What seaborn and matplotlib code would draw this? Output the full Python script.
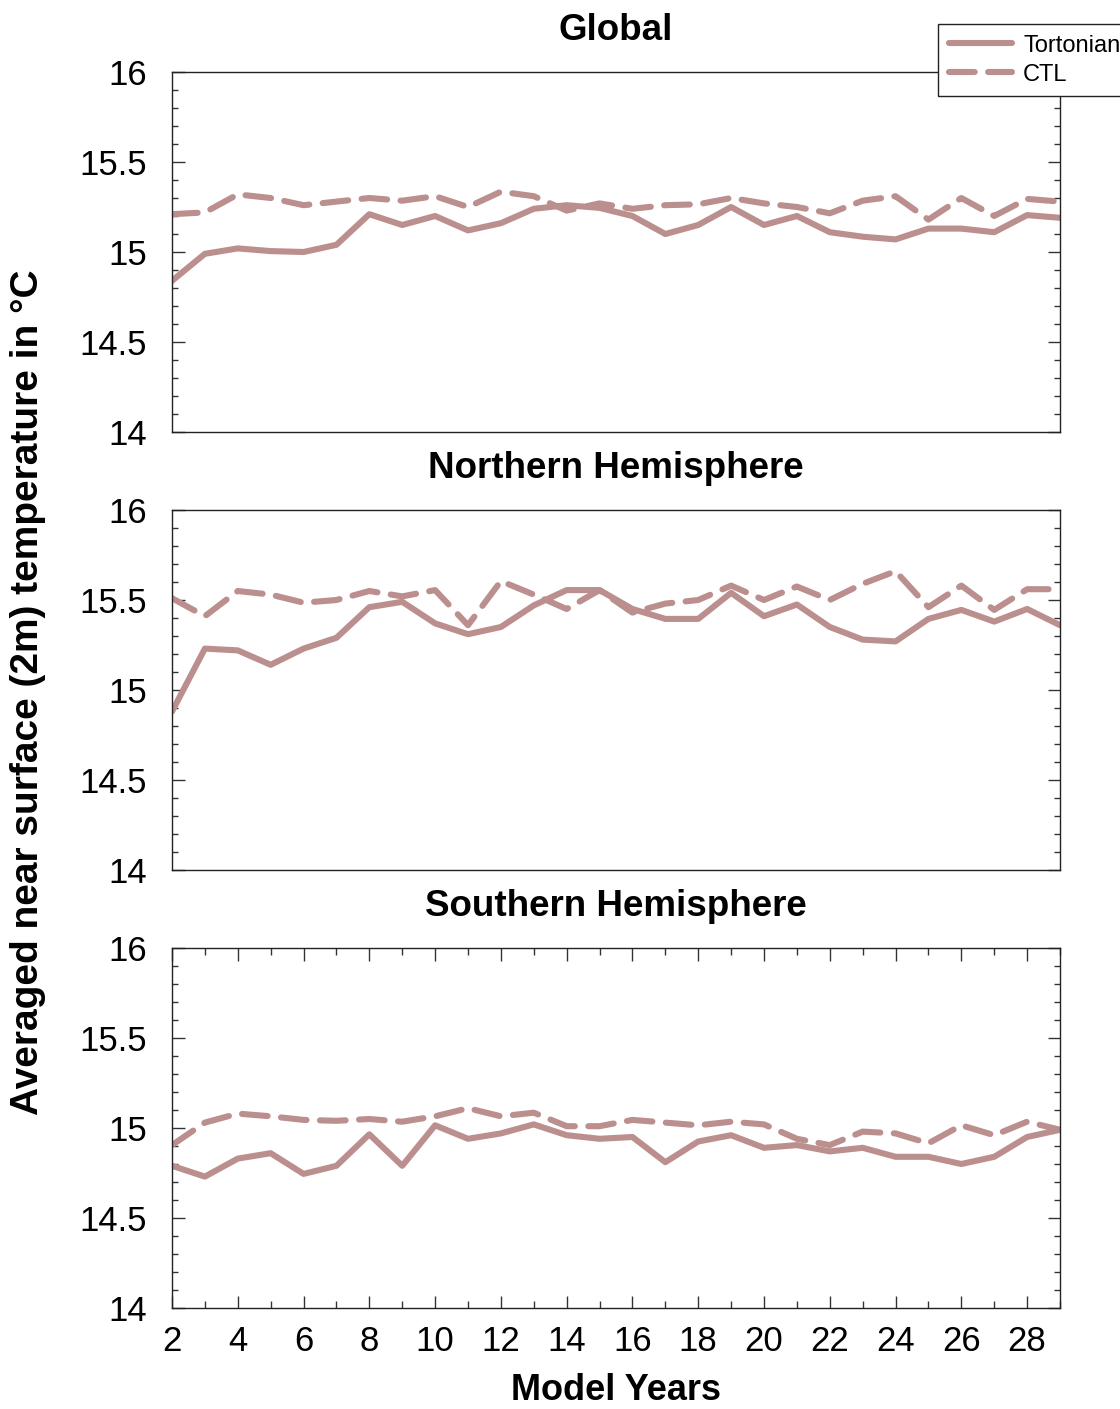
import numpy as np
import pandas as pd
import matplotlib
matplotlib.use("Agg")
import matplotlib.pyplot as plt
from matplotlib.ticker import MultipleLocator
import seaborn as sns

years = list(range(2, 30))

global_tortonian = [14.84, 14.99, 15.02, 15.005, 15.00, 15.04, 15.21, 15.15, 15.20, 15.12,
                    15.16, 15.24, 15.26, 15.245, 15.20, 15.10, 15.15, 15.25, 15.15, 15.20,
                    15.11, 15.085, 15.07, 15.13, 15.13, 15.11, 15.205, 15.19]
global_ctl = [15.21, 15.22, 15.32, 15.30, 15.26, 15.28, 15.30, 15.285, 15.31, 15.25,
              15.335, 15.31, 15.23, 15.27, 15.24, 15.26, 15.265, 15.30, 15.27, 15.25,
              15.215, 15.285, 15.31, 15.18, 15.30, 15.20, 15.295, 15.28]

nh_tortonian = [14.88, 15.23, 15.22, 15.14, 15.23, 15.29, 15.46, 15.49, 15.37, 15.31,
                15.35, 15.47, 15.555, 15.555, 15.45, 15.395, 15.395, 15.54, 15.41, 15.475,
                15.35, 15.28, 15.27, 15.395, 15.445, 15.38, 15.45, 15.36]
nh_ctl = [15.51, 15.41, 15.55, 15.53, 15.485, 15.50, 15.55, 15.52, 15.555, 15.36,
          15.605, 15.53, 15.45, 15.555, 15.43, 15.48, 15.50, 15.58, 15.50, 15.575,
          15.50, 15.59, 15.66, 15.46, 15.58, 15.445, 15.56, 15.56]

sh_tortonian = [14.79, 14.73, 14.83, 14.86, 14.745, 14.79, 14.965, 14.79, 15.015, 14.94,
                14.97, 15.02, 14.96, 14.94, 14.95, 14.81, 14.925, 14.96, 14.89, 14.905,
                14.87, 14.89, 14.84, 14.84, 14.80, 14.84, 14.95, 14.99]
sh_ctl = [14.905, 15.03, 15.08, 15.065, 15.045, 15.04, 15.05, 15.035, 15.065, 15.11,
          15.065, 15.085, 15.01, 15.01, 15.045, 15.03, 15.015, 15.035, 15.02, 14.94,
          14.905, 14.98, 14.97, 14.915, 15.015, 14.96, 15.035, 14.99]

panel_titles = ["Global", "Northern Hemisphere", "Southern Hemisphere"]
run_names = ["Tortonian", "CTL"]
ytick_vals = [14, 14.5, 15, 15.5, 16]
ytick_labels = ["14", "14.5", "15", "15.5", "16"]
xtick_vals = list(range(2, 30, 2))

panels = [(global_tortonian, global_ctl), (nh_tortonian, nh_ctl), (sh_tortonian, sh_ctl)]

sns.set_style("ticks")
plt.rcParams["font.family"] = ["Liberation Sans", "DejaVu Sans"]
plt.rcParams["text.color"] = "black"
plt.rcParams["axes.labelcolor"] = "black"
plt.rcParams["xtick.color"] = "black"
plt.rcParams["ytick.color"] = "black"
plt.rcParams["lines.solid_capstyle"] = "round"
plt.rcParams["lines.dash_capstyle"] = "round"
plt.rcParams["lines.solid_joinstyle"] = "round"
plt.rcParams["lines.dash_joinstyle"] = "round"

W, H = 1120, 1409
fig = plt.figure(figsize=(W / 100, H / 100), dpi=100)

color = "#bc8f8f"
tops = [72, 510, 948]
left, right = 172, 1060
ph = 360

axes = []
for i, (tort, ctl) in enumerate(panels):
    top = tops[i]
    ax = fig.add_axes([left / W, 1 - (top + ph) / H, (right - left) / W, ph / H])
    axes.append(ax)
    df = pd.DataFrame({
        "year": years * 2,
        "temp": tort + ctl,
        "run": [run_names[0]] * len(years) + [run_names[1]] * len(years),
    })
    sns.lineplot(data=df, x="year", y="temp", style="run", style_order=run_names,
                 dashes={"Tortonian": "", "CTL": (4.2, 2.2)},
                 color=color, linewidth=4.4, ax=ax, legend=(i == 0))
    ax.set_xlim(2, 29)
    ax.set_ylim(14, 16)
    ax.set_yticks(ytick_vals)
    ax.set_yticklabels(ytick_labels)
    ax.yaxis.set_minor_locator(MultipleLocator(0.1))
    ax.tick_params(axis="y", which="both", direction="in", left=True, right=True,
                   labelsize=25, pad=18, color="#333333", labelcolor="black")
    ax.tick_params(axis="y", which="major", length=9, width=1)
    ax.tick_params(axis="y", which="minor", length=4.5, width=1)
    if i == 2:
        ax.set_xticks(xtick_vals)
        ax.xaxis.set_minor_locator(MultipleLocator(1))
        ax.tick_params(axis="x", which="both", direction="in", top=True, bottom=True,
                       labelsize=25, pad=12, color="#333333", labelcolor="black")
        ax.tick_params(axis="x", which="major", length=9, width=1)
        ax.tick_params(axis="x", which="minor", length=5, width=1)
        ax.set_xlabel("Model Years", fontsize=26, fontweight="bold", labelpad=11,
                      color="black")
    else:
        ax.set_xticks([])
        ax.set_xlabel("")
    ax.set_ylabel("")
    ax.set_title(panel_titles[i], fontsize=26.5, fontweight="bold", pad=23, color="black")
    for s in ax.spines.values():
        s.set_visible(True)
        s.set_linewidth(1.0)
        s.set_color("#222222")

handles, labels = axes[0].get_legend_handles_labels()
axes[0].get_legend().remove()
for h in handles:
    h.set_linewidth(4.4)
fig.legend(handles, labels, loc="upper left", bbox_to_anchor=(938 / W, 1 - 24 / H),
           fontsize=17, frameon=True, fancybox=False, edgecolor="#222222",
           framealpha=1, borderpad=0.45, labelspacing=0.3, handlelength=2.7,
           handletextpad=0.45, borderaxespad=0)

fig.text(28 / W, 1 - 692 / H, "Averaged near surface (2m) temperature in °C",
         rotation=90, ha="center", va="center", fontsize=28, fontweight="bold",
         color="black")

fig.savefig("out.png", dpi=100)
